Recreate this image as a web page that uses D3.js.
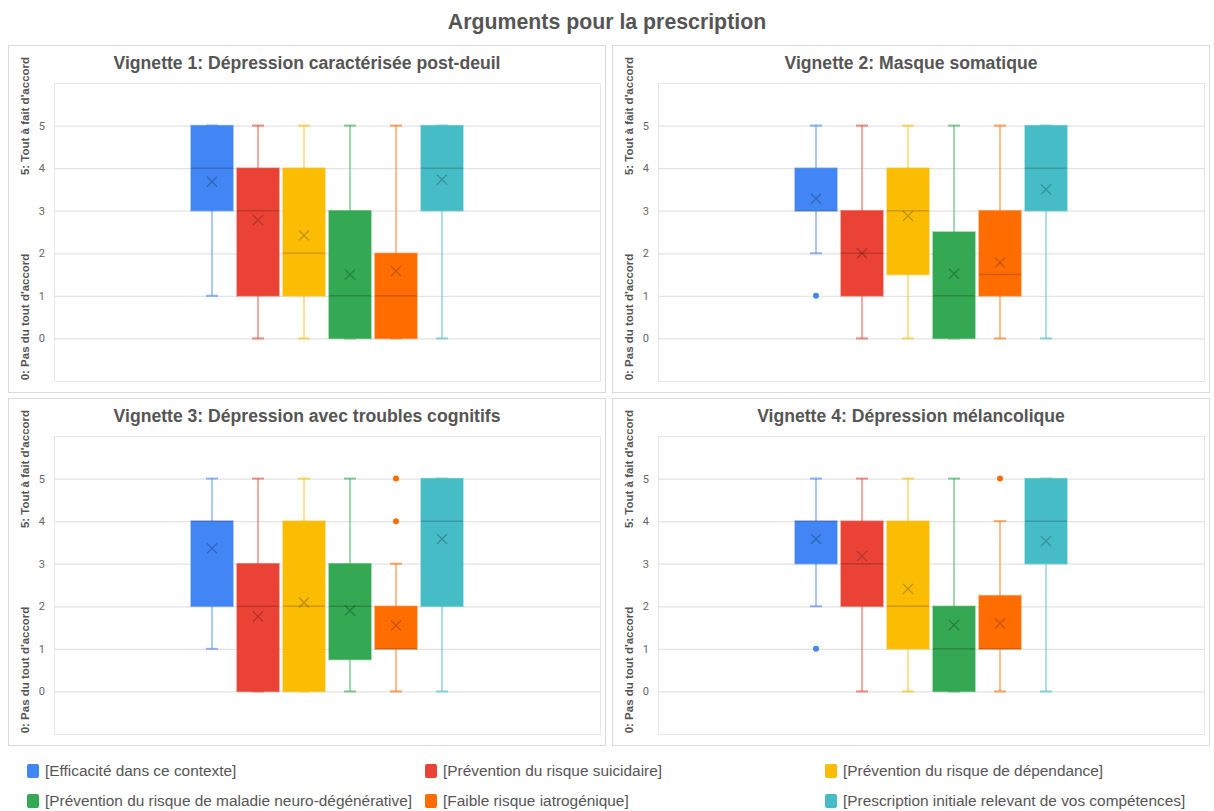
<!DOCTYPE html>
<html>
<head>
<meta charset="utf-8">
<script src="https://cdn.jsdelivr.net/npm/d3@7"></script>
<style>
  html, body { margin: 0; padding: 0; background: #fff; }
  svg { display: block; font-family: Arial, 'Liberation Sans', sans-serif; }
</style>
</head>
<body>
<svg id="chart" width="1214" height="811"></svg>
<script>
// ---------- DATA ----------
const mainTitle = "Arguments pour la prescription";
const vignettes = [
  "Vignette 1: Dépression caractérisée post-deuil",
  "Vignette 2: Masque somatique",
  "Vignette 3: Dépression avec troubles cognitifs",
  "Vignette 4: Dépression mélancolique"
];
const series = [
  "[Efficacité dans ce contexte]",
  "[Prévention du risque suicidaire]",
  "[Prévention du risque de dépendance]",
  "[Prévention du risque de maladie neuro-dégénérative]",
  "[Faible risque iatrogénique]",
  "[Prescription initiale relevant de vos compétences]"
];
const colors = ["#4285F4", "#EA4335", "#FBBC04", "#34A853", "#FF6D01", "#46BDC6"];
const yTicks = [0, 1, 2, 3, 4, 5];
const yLabelTop = "5: Tout à fait d'accord";
const yLabelBottom = "0: Pas du tout d'accord";

// one row per vignette, one value per series
const whiskerLow = [
  [1, 0, 0, 0, 0, 0],
  [2, 0, 0, 0, 0, 0],
  [1, 0, 0, 0, 0, 0],
  [2, 0, 0, 0, 0, 0]
];
const q1 = [
  [3, 1, 1, 0, 0, 3],
  [3, 1, 1.5, 0, 1, 3],
  [2, 0, 0, 0.75, 1, 2],
  [3, 2, 1, 0, 1, 3]
];
const median = [
  [4, 3, 2, 1, 1, 4],
  [3, 2, 3, 1, 1.5, 4],
  [4, 2, 2, 2, 1, 4],
  [4, 3, 2, 1, 1, 4]
];
const q3 = [
  [5, 4, 4, 3, 2, 5],
  [4, 3, 4, 2.5, 3, 5],
  [4, 3, 4, 3, 2, 5],
  [4, 4, 4, 2, 2.25, 5]
];
const whiskerHigh = [
  [5, 5, 5, 5, 5, 5],
  [5, 5, 5, 5, 5, 5],
  [5, 5, 5, 5, 3, 5],
  [5, 5, 5, 5, 4, 5]
];
const means = [
  [3.68, 2.78, 2.42, 1.5, 1.58, 3.73],
  [3.28, 2.0, 2.88, 1.52, 1.78, 3.5],
  [3.36, 1.76, 2.09, 1.9, 1.55, 3.58],
  [3.58, 3.18, 2.41, 1.56, 1.6, 3.53]
];
const outliers = [
  [[], [], [], [], [], []],
  [[1], [], [], [], [], []],
  [[], [], [], [], [4, 5], []],
  [[1], [], [], [], [5], []]
];

// ---------- LAYOUT ----------
const svg = d3.select("#chart");
const textColor = "#555";

svg.append("text")
  .attr("x", 607).attr("y", 29)
  .attr("text-anchor", "middle")
  .attr("font-size", 21.3).attr("font-weight", "bold")
  .attr("fill", textColor)
  .text(mainTitle);

const panels = [
  { x: 8, y: 45 }, { x: 612, y: 45 },
  { x: 8, y: 398 }, { x: 612, y: 398 }
];
const panelW = 598, panelH = 348;
const plotL = 46, plotR = 592, plotT = 38, plotB = 336;

panels.forEach((p, vi) => {
  const g = svg.append("g").attr("transform", `translate(${p.x},${p.y})`);

  g.append("rect")
    .attr("x", 0.5).attr("y", 0.5)
    .attr("width", panelW - 1).attr("height", panelH - 1)
    .attr("fill", "#fff").attr("stroke", "#dadada");

  g.append("text")
    .attr("x", panelW / 2).attr("y", 24)
    .attr("text-anchor", "middle")
    .attr("font-size", 17.6).attr("font-weight", "bold")
    .attr("fill", textColor)
    .text(vignettes[vi]);

  const y = d3.scaleLinear().domain([-1, 6]).range([plotB, plotT]);
  const cx = (plotL + plotR) / 2;
  const x = d3.scaleBand().domain(series)
    .range([cx - 136, cx + 136])
    .paddingInner(0.087).paddingOuter(0);

  // plot frame
  g.append("rect")
    .attr("x", plotL + 0.5).attr("y", plotT + 0.5)
    .attr("width", plotR - plotL).attr("height", plotB - plotT)
    .attr("fill", "none").attr("stroke", "#e6e6e6");

  // grid + tick labels through a d3 axis
  const axis = d3.axisLeft(y).tickValues(yTicks)
    .tickSize(-(plotR - plotL)).tickPadding(9).tickFormat(d3.format("d"));
  const ag = g.append("g").attr("transform", `translate(${plotL},0)`).call(axis);
  ag.select(".domain").remove();
  ag.selectAll(".tick line").attr("stroke", "#e3e3e3").attr("stroke-width", 1.2);
  ag.selectAll(".tick text").attr("fill", "#666").attr("font-size", 11)
    .attr("font-family", "Roboto, Arial, sans-serif");

  // y labels
  g.append("text")
    .attr("transform", `translate(21,${71}) rotate(-90)`)
    .attr("text-anchor", "middle")
    .attr("font-size", 11.5).attr("font-weight", "bold").attr("fill", textColor)
    .text(yLabelTop);
  g.append("text")
    .attr("transform", `translate(21,${272}) rotate(-90)`)
    .attr("text-anchor", "middle")
    .attr("font-size", 11.5).attr("font-weight", "bold").attr("fill", textColor)
    .text(yLabelBottom);

  // boxes
  series.forEach((s, si) => {
    const c = colors[si];
    const bx = x(s), bw = x.bandwidth(), mx = bx + bw / 2;
    const bg = g.append("g");
    // whisker
    bg.append("line")
      .attr("x1", mx).attr("x2", mx)
      .attr("y1", y(whiskerLow[vi][si])).attr("y2", y(whiskerHigh[vi][si]))
      .attr("stroke", c).attr("stroke-opacity", 0.6).attr("stroke-width", 1.5);
    [whiskerLow[vi][si], whiskerHigh[vi][si]].forEach(v => {
      bg.append("line")
        .attr("x1", mx - 6).attr("x2", mx + 6)
        .attr("y1", y(v)).attr("y2", y(v))
        .attr("stroke", c).attr("stroke-opacity", 0.6).attr("stroke-width", 2);
    });
    // box
    bg.append("rect")
      .attr("x", bx).attr("width", bw)
      .attr("y", y(q3[vi][si]))
      .attr("height", y(q1[vi][si]) - y(q3[vi][si]))
      .attr("fill", c)
      .attr("stroke", c).attr("stroke-opacity", 0.55).attr("stroke-width", 1.5);
    // median
    bg.append("line")
      .attr("x1", bx).attr("x2", bx + bw)
      .attr("y1", y(median[vi][si])).attr("y2", y(median[vi][si]))
      .attr("stroke", "#000").attr("stroke-opacity", 0.18).attr("stroke-width", 1.5);
    // mean marker (x)
    const my = y(means[vi][si]), r = 5;
    bg.append("path")
      .attr("d", `M${mx - r},${my - r}L${mx + r},${my + r}M${mx - r},${my + r}L${mx + r},${my - r}`)
      .attr("stroke", "#000").attr("stroke-opacity", 0.25).attr("stroke-width", 1.2)
      .attr("fill", "none");
    // outliers
    bg.selectAll("circle.out").data(outliers[vi][si]).enter()
      .append("circle")
      .attr("cx", mx).attr("cy", d => y(d)).attr("r", 3)
      .attr("fill", c);
  });
});

// ---------- LEGEND ----------
const legendCols = [27, 425, 825];
const legendRows = [771, 801];
series.forEach((s, i) => {
  const col = i % 3, row = Math.floor(i / 3);
  const lg = svg.append("g")
    .attr("transform", `translate(${legendCols[col]},${legendRows[row]})`);
  lg.append("rect")
    .attr("x", 0).attr("y", -7).attr("width", 12).attr("height", 14)
    .attr("rx", 2).attr("fill", colors[i]);
  lg.append("text")
    .attr("x", 18).attr("y", 5)
    .attr("font-size", 15.4).attr("fill", textColor)
    .text(s);
});
</script>
</body>
</html>
